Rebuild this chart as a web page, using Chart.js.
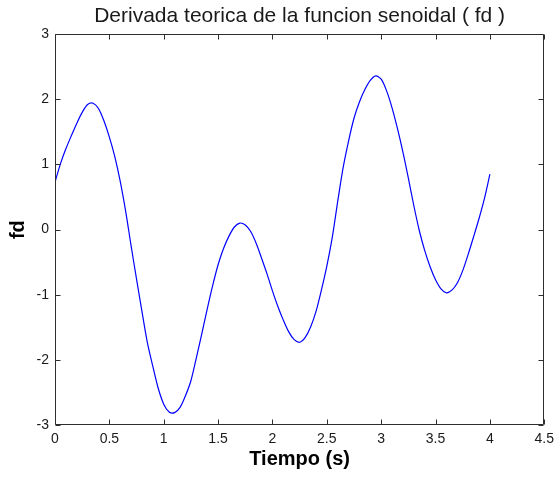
<!DOCTYPE html>
<html>
<head>
<meta charset="utf-8">
<script src="https://cdn.jsdelivr.net/npm/chart.js@4.4.1/dist/chart.umd.min.js"></script>
<style>
html,body{margin:0;padding:0;background:#ffffff;}
#wrap{width:560px;height:479px;}
</style>
</head>
<body>
<div id="wrap"><canvas id="c" width="560" height="479"></canvas></div>
<script>
const chartTitle = 'Derivada teorica de la funcion senoidal ( fd )';
const xTitle = 'Tiempo (s)';
const yTitle = 'fd';

const times = [0, 0.05, 0.1, 0.15, 0.2, 0.25, 0.3, 0.35, 0.4, 0.45,
  0.5, 0.55, 0.6, 0.65, 0.7, 0.75, 0.8, 0.85, 0.9, 0.95,
  1.0, 1.05, 1.1, 1.15, 1.2, 1.25, 1.3, 1.35, 1.4, 1.45,
  1.5, 1.55, 1.6, 1.65, 1.7, 1.75, 1.8, 1.85, 1.9, 1.95,
  2.0, 2.05, 2.1, 2.15, 2.2, 2.25, 2.3, 2.35, 2.4, 2.45,
  2.5, 2.55, 2.6, 2.65, 2.7, 2.75, 2.8, 2.85, 2.9, 2.95,
  3.0, 3.05, 3.1, 3.15, 3.2, 3.25, 3.3, 3.35, 3.4, 3.45,
  3.5, 3.55, 3.6, 3.65, 3.7, 3.75, 3.8, 3.85, 3.9, 3.95,
  4.0];

const fd = [0.73, 1.01, 1.24, 1.44, 1.63, 1.80, 1.92, 1.94, 1.86, 1.67,
  1.42, 1.12, 0.74, 0.28, -0.25, -0.76, -1.26, -1.74, -2.10, -2.44,
  -2.68, -2.80, -2.81, -2.73, -2.55, -2.32, -1.97, -1.60, -1.22, -0.86,
  -0.54, -0.29, -0.10, 0.04, 0.10, 0.07, -0.03, -0.21, -0.44, -0.68,
  -0.94, -1.18, -1.39, -1.57, -1.69, -1.73, -1.66, -1.50, -1.26, -0.93,
  -0.56, -0.12, 0.43, 0.95, 1.36, 1.71, 1.96, 2.15, 2.29, 2.36,
  2.31, 2.13, 1.87, 1.55, 1.19, 0.79, 0.37, -0.01, -0.32, -0.57,
  -0.77, -0.91, -0.97, -0.93, -0.82, -0.63, -0.38, -0.11, 0.17, 0.48,
  0.85];

const xTicks = [0, 0.5, 1, 1.5, 2, 2.5, 3, 3.5, 4, 4.5];
const yTicks = [-3, -2, -1, 0, 1, 2, 3];

const axisColor = '#2e2e2e';
const textColor = '#1a1a1a';

// MATLAB-style box with inward tick marks, placed via the chart's own scales
const matlabBox = {
  id: 'matlabBox',
  afterDraw(chart) {
    const {ctx, chartArea: a, scales: {x, y}} = chart;
    const L = Math.round(a.left) + 0.5, R = Math.round(a.right) - 0.5;
    const T = Math.round(a.top) + 0.5, B = Math.round(a.bottom) - 0.5;
    const len = 5;
    ctx.save();
    ctx.strokeStyle = axisColor;
    ctx.lineWidth = 1;
    ctx.beginPath();
    ctx.rect(L, T, R - L, B - T);
    x.ticks.forEach(t => {
      const px = Math.round(x.getPixelForValue(t.value)) + 0.5;
      ctx.moveTo(px, B); ctx.lineTo(px, B - len);
      ctx.moveTo(px, T); ctx.lineTo(px, T + len);
    });
    y.ticks.forEach(t => {
      const py = Math.round(y.getPixelForValue(t.value)) + 0.5;
      ctx.moveTo(L, py); ctx.lineTo(L + len, py);
      ctx.moveTo(R, py); ctx.lineTo(R - len, py);
    });
    ctx.stroke();
    ctx.restore();
  }
};

new Chart(document.getElementById('c'), {
  type: 'line',
  data: {
    datasets: [{
      data: times.map((t, i) => ({x: t, y: fd[i]})),
      borderColor: '#0000ff',
      borderWidth: 1.2,
      pointRadius: 0,
      tension: 0.3,
      fill: false
    }]
  },
  options: {
    responsive: false,
    animation: false,
    devicePixelRatio: 1,
    layout: {padding: {left: 0, right: 12, top: 0, bottom: 0}},
    plugins: {
      legend: {display: false},
      tooltip: {enabled: false},
      title: {
        display: true,
        text: chartTitle,
        fullSize: false,
        color: textColor,
        font: {family: '"Liberation Sans", Arial, sans-serif', size: 21, weight: 'normal'},
        padding: {top: 4, bottom: 5}
      }
    },
    scales: {
      x: {
        type: 'linear',
        min: 0, max: 4.5,
        afterBuildTicks: s => { s.ticks = xTicks.map(v => ({value: v})); },
        afterFit: s => { s.height = 54; },
        grid: {display: false, drawTicks: false},
        border: {display: false},
        ticks: {
          color: textColor, padding: 6, maxRotation: 0,
          font: {family: '"Liberation Sans", Arial, sans-serif', size: 14},
          callback: v => String(v)
        },
        title: {
          display: true, text: xTitle, color: '#000',
          font: {family: '"Liberation Sans", Arial, sans-serif', size: 20, weight: 'bold'},
          padding: {top: 0, bottom: 8}
        }
      },
      y: {
        type: 'linear',
        min: -3, max: 3,
        afterBuildTicks: s => { s.ticks = yTicks.map(v => ({value: v})); },
        afterFit: s => { s.width = 55; },
        grid: {display: false, drawTicks: false},
        border: {display: false},
        ticks: {
          color: textColor, padding: 6,
          font: {family: '"Liberation Sans", Arial, sans-serif', size: 14},
          callback: v => String(v)
        },
        title: {
          display: true, text: yTitle, color: '#000',
          font: {family: '"Liberation Sans", Arial, sans-serif', size: 20, weight: 'bold'},
          padding: {top: 6, bottom: 0}
        }
      }
    }
  },
  plugins: [matlabBox]
});
</script>
</body>
</html>
